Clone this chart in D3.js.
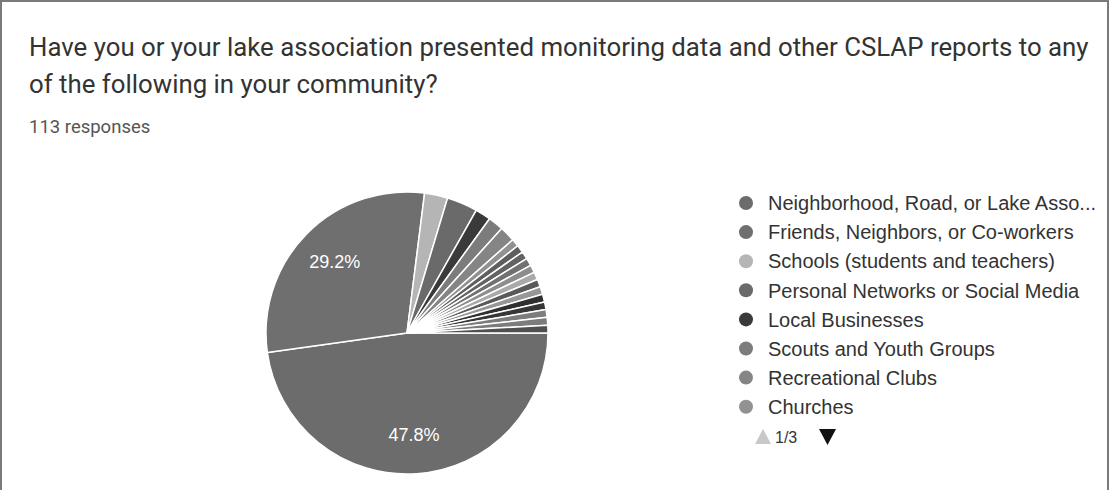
<!DOCTYPE html>
<html>
<head>
<meta charset="utf-8">
<script src="https://cdn.jsdelivr.net/npm/d3@7"></script>
<style>
  html, body { margin: 0; padding: 0; background: #fff; }
  svg { display: block; }
</style>
</head>
<body>
<svg id="chart" width="1110" height="490"></svg>
<script>
// Answer categories (the first eight are listed on legend page 1 of 3)
const categories = [
  "Neighborhood, Road, or Lake Association",
  "Friends, Neighbors, or Co-workers",
  "Schools (students and teachers)",
  "Personal Networks or Social Media",
  "Local Businesses",
  "Scouts and Youth Groups",
  "Recreational Clubs",
  "Churches",
  "Other 1", "Other 2", "Other 3", "Other 4", "Other 5", "Other 6",
  "Other 7", "Other 8", "Other 9", "Other 10", "Other 11", "Other 12"
];
// Response counts (113 responses in total)
const counts = [54, 33, 3, 4, 2, 2, 2, 1, 1, 1, 1, 1, 1, 1, 1, 1, 1, 1, 1, 1];
// Slice fills, in category order
const colors = [
  "#6c6c6c", "#6f6f6f", "#b5b5b5", "#6a6a6a", "#3a3a3a", "#7c7c7c",
  "#858585", "#929292", "#5f5f5f", "#636363", "#717171", "#8d8d8d",
  "#a9a9a9", "#5a5a5a", "#979797", "#303030", "#363636", "#7c7c7c",
  "#7c7c7c", "#4f4f4f"
];
const titleLines = [
  "Have you or your lake association presented monitoring data and other CSLAP reports to any",
  "of the following in your community?"
];
const subtitle = "113 responses";
const legendPage = "1/3";
const legendRows = 8;

const svg = d3.select("#chart");
const W = 1110, H = 490;

// frame
svg.append("path")
  .attr("d", `M1,${H} V1 H${W - 2} V${H}`)
  .attr("fill", "none")
  .attr("stroke", "#7a7a7a")
  .attr("stroke-width", 2);

// title
svg.append("g").selectAll("text")
  .data(titleLines)
  .join("text")
  .attr("x", 29)
  .attr("y", (d, i) => 56 + i * 37)
  .attr("font-family", "Roboto, sans-serif")
  .attr("font-size", 25.8)
  .attr("fill", "#333")
  .text(d => d);

svg.append("text")
  .attr("x", 29)
  .attr("y", 133)
  .attr("font-family", "Roboto, sans-serif")
  .attr("font-size", 18.5)
  .attr("fill", "#555")
  .text(subtitle);

// pie
const total = d3.sum(counts);
const data = categories.map((c, i) => ({ name: c, value: counts[i], color: colors[i] }));
const cx = 407, cy = 333, r = 141;

const pie = d3.pie()
  .value(d => d.value)
  .sort(null)
  .startAngle(Math.PI / 2)
  .endAngle(Math.PI / 2 + 2 * Math.PI);

const arc = d3.arc().innerRadius(0).outerRadius(r);
const arcs = pie(data);

const g = svg.append("g").attr("transform", `translate(${cx},${cy})`);
g.selectAll("path")
  .data(arcs)
  .join("path")
  .attr("d", arc)
  .attr("fill", d => d.data.color)
  .attr("stroke", "#fff")
  .attr("stroke-width", 1.5)
  .attr("stroke-linejoin", "round");

// percentage labels on the large slices
const labelArc = d3.arc().innerRadius(r * 0.72).outerRadius(r * 0.72);
g.selectAll("text.pct")
  .data(arcs.filter(d => d.data.value / total > 0.05))
  .join("text")
  .attr("class", "pct")
  .attr("transform", d => `translate(${labelArc.centroid(d)})`)
  .attr("text-anchor", "middle")
  .attr("dy", "0.36em")
  .attr("font-family", "Arial, 'Liberation Sans', sans-serif")
  .attr("font-size", 18)
  .attr("fill", "#fff")
  .text(d => (d.data.value / total * 100).toFixed(1) + "%");

// legend (first page)
const legend = svg.append("g").attr("transform", "translate(746,203)");
const rows = legend.selectAll("g")
  .data(data.slice(0, legendRows))
  .join("g")
  .attr("transform", (d, i) => `translate(0,${i * 29.1})`);

rows.append("circle")
  .attr("r", 7)
  .attr("fill", d => d.color);

const maxLabel = 335;
rows.append("text")
  .attr("x", 22)
  .attr("dy", "0.36em")
  .attr("font-family", "Arial, 'Liberation Sans', sans-serif")
  .attr("font-size", 20)
  .attr("fill", "#333")
  .text(d => d.name)
  .each(function (d) {
    // shorten long names with an ellipsis
    const t = d3.select(this);
    let s = d.name;
    while (this.getComputedTextLength() > maxLabel && s.length > 1) {
      s = s.slice(0, -1);
      t.text(s + "...");
    }
  });

// pager
const pager = svg.append("g").attr("transform", "translate(746,437)");
pager.append("path")
  .attr("d", "M17,-8 L25,7 L9,7 Z")
  .attr("fill", "#c8c8c8");
pager.append("text")
  .attr("x", 29)
  .attr("dy", "0.36em")
  .attr("font-family", "Arial, 'Liberation Sans', sans-serif")
  .attr("font-size", 16)
  .attr("fill", "#333")
  .text(legendPage);
pager.append("path")
  .attr("d", "M73,-8 L90,-8 L81.5,8 Z")
  .attr("fill", "#111");
</script>
</body>
</html>
